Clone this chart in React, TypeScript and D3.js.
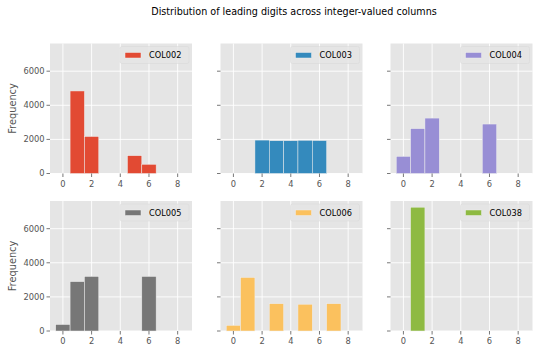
import React, { useEffect, useRef } from 'react';
import * as d3 from 'd3';

// leading digit bins 0..8
const digits = [0, 1, 2, 3, 4, 5, 6, 7, 8];
const columnNames = ['COL002', 'COL003', 'COL004', 'COL005', 'COL006', 'COL038'];
const col002 = [0, 4840, 2170, 0, 0, 1045, 540, 0, 0];
const col003 = [0, 0, 1960, 1920, 1920, 1950, 1930, 0, 0];
const col004 = [1005, 2630, 3250, 0, 0, 0, 2900, 0, 0];
const col005 = [380, 2895, 3200, 0, 0, 0, 3200, 0, 0];
const col006 = [330, 3140, 0, 1600, 0, 1570, 0, 1600, 0];
const col038 = [0, 7260, 0, 0, 0, 0, 0, 0, 0];
const xTicks = [0, 2, 4, 6, 8];
const yTicks = [0, 2000, 4000, 6000];
const colors = ['#E24A33', '#348ABD', '#988ED5', '#777777', '#FBC15E', '#8EBA42'];

const W = 540;
const H = 352;
const FONT = 'DejaVu Sans, sans-serif';

const App: React.FC = () => {
  const svgRef = useRef<SVGSVGElement>(null);

  useEffect(() => {
    if (!svgRef.current) return;
    const svg = d3.select(svgRef.current);
    svg.selectAll('*').remove();

    const series = [col002, col003, col004, col005, col006, col038];
    const colX = [50, 220.5, 390.5];
    const rowY = [43.5, 201];
    const pw = 142;
    const ph = 130;

    const yMax = d3.max(series.flat()) as number;

    svg.append('text')
      .attr('x', 294)
      .attr('y', 15)
      .attr('text-anchor', 'middle')
      .style('font-family', FONT)
      .style('font-size', '9.6px')
      .style('fill', '#000')
      .text('Distribution of leading digits across integer-valued columns');

    series.forEach((vals, i) => {
      const col = i % 3;
      const row = Math.floor(i / 3);
      const g = svg.append('g').attr('transform', `translate(${colX[col]},${rowY[row]})`);

      const x = d3.scaleLinear().domain([-0.9, 9]).range([0, pw]);
      const y = d3.scaleLinear().domain([0, yMax * 1.05]).range([ph, 0]);

      g.append('rect')
        .attr('width', pw)
        .attr('height', ph)
        .attr('fill', '#E5E5E5');

      // grid
      g.selectAll('.gx').data(xTicks).enter().append('line')
        .attr('x1', d => x(d)).attr('x2', d => x(d))
        .attr('y1', 0).attr('y2', ph)
        .attr('stroke', '#fff').attr('stroke-width', 0.9);
      g.selectAll('.gy').data(yTicks).enter().append('line')
        .attr('x1', 0).attr('x2', pw)
        .attr('y1', d => y(d)).attr('y2', d => y(d))
        .attr('stroke', '#fff').attr('stroke-width', 0.9);

      // bars
      g.selectAll('.bar').data(digits.filter((_, k) => vals[k] > 0)).enter().append('rect')
        .attr('x', d => x(d - 0.5))
        .attr('width', d => x(d + 0.5) - x(d - 0.5))
        .attr('y', d => y(vals[d]))
        .attr('height', d => ph - y(vals[d]))
        .attr('fill', colors[i])
        .attr('stroke', '#EEEEEE')
        .attr('stroke-width', 0.5);

      // x axis ticks
      const xa = g.append('g').attr('transform', `translate(0,${ph})`);
      xTicks.forEach(t => {
        xa.append('line')
          .attr('x1', x(t)).attr('x2', x(t))
          .attr('y1', 0).attr('y2', 3.5)
          .attr('stroke', '#555555').attr('stroke-width', 0.8);
        xa.append('text')
          .attr('x', x(t))
          .attr('y', 13)
          .attr('text-anchor', 'middle')
          .style('font-family', FONT)
          .style('font-size', '8.3px')
          .style('fill', '#555555')
          .text(String(t));
      });

      // y axis ticks
      yTicks.forEach(t => {
        g.append('line')
          .attr('x1', -3.5).attr('x2', 0)
          .attr('y1', y(t)).attr('y2', y(t))
          .attr('stroke', '#555555').attr('stroke-width', 0.8);
        if (col === 0) {
          g.append('text')
            .attr('x', -5.5)
            .attr('y', y(t))
            .attr('dy', '0.35em')
            .attr('text-anchor', 'end')
            .style('font-family', FONT)
            .style('font-size', '8.3px')
            .style('fill', '#555555')
            .text(String(t));
        }
      });

      if (col === 0) {
        g.append('text')
          .attr('transform', `translate(${-34},${ph / 2}) rotate(-90)`)
          .attr('text-anchor', 'middle')
          .style('font-family', FONT)
          .style('font-size', '9.8px')
          .style('fill', '#555555')
          .text('Frequency');
      }

      // legend
      const lg = g.append('g').attr('transform', `translate(${pw - 72},3)`);
      lg.append('rect')
        .attr('width', 69)
        .attr('height', 17)
        .attr('rx', 2)
        .attr('fill', '#E5E5E5')
        .attr('fill-opacity', 0.8)
        .attr('stroke', '#d6d6d6')
        .attr('stroke-opacity', 0.8)
        .attr('stroke-width', 0.6);
      lg.append('rect')
        .attr('x', 5)
        .attr('y', 6)
        .attr('width', 16)
        .attr('height', 5.5)
        .attr('fill', colors[i])
        .attr('stroke', '#EEEEEE')
        .attr('stroke-width', 0.5);
      lg.append('text')
        .attr('x', 29)
        .attr('y', 8.8)
        .attr('dy', '0.35em')
        .style('font-family', FONT)
        .style('font-size', '8.2px')
        .style('fill', '#000')
        .text(columnNames[i]);
    });
  }, []);

  return (
    <svg
      ref={svgRef}
      width={W}
      height={H}
      style={{ position: 'absolute', left: 0, top: 0, background: '#fff' }}
    />
  );
};

export default App;
